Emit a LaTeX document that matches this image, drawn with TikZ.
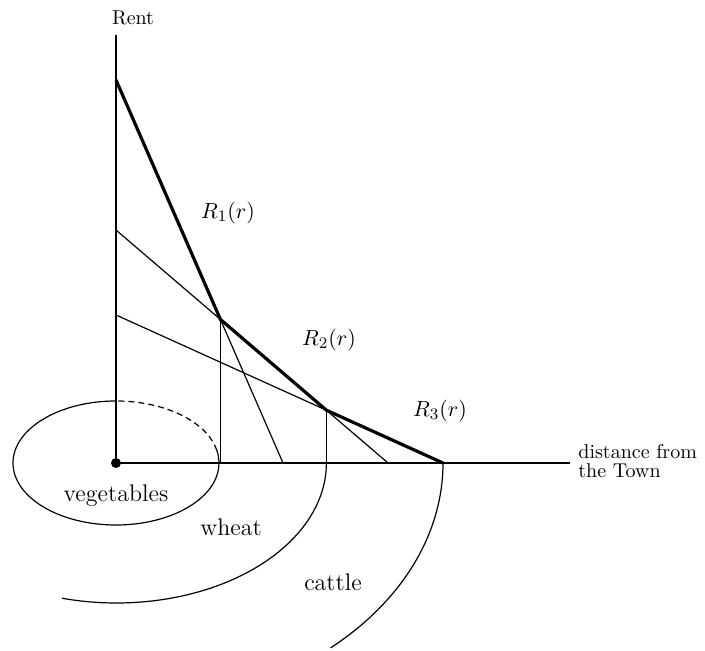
\documentclass[tikz,border=0pt]{standalone}
\begin{document}
\begin{tikzpicture}[x=0.5pt,y=0.5pt,
  thin line/.style={line width=0.6pt},
  envelope/.style={line width=1.6pt, line join=miter},
  zone/.style={font=\fontsize{12}{14}\selectfont, inner sep=0pt},
  axislabel/.style={font=\fontsize{10}{9.5}\selectfont, inner sep=0pt},
  rentlabel/.style={font=\fontsize{11}{13}\selectfont, inner sep=0pt}]
\useasboundingbox (0,0) rectangle (705,651);
% key points
\coordinate (O) at (116,188);
\coordinate (Ytop) at (116,616);
\coordinate (Xend) at (570,188);
\coordinate (A) at (116,571);
\coordinate (B2) at (116,421);
\coordinate (B3) at (116,336);
\coordinate (F1) at (283,188);
\coordinate (F2) at (388,188);
\coordinate (P3) at (443,188);
\coordinate (P1) at (intersection of A--F1 and B2--F2);
\coordinate (P2) at (intersection of B2--F2 and B3--P3);
\coordinate (Q2) at (P2 |- O);
% axes
\draw[thin line] (Ytop) -- (O) -- (Xend);
% rent lines
\draw[thin line] (A) -- (F1);
\draw[thin line] (B2) -- (F2);
\draw[thin line] (B3) -- (P3);
% drop lines
\draw[thin line] (P1) -- (P1 |- O);
\draw[thin line] (P2) -- (Q2);
% envelope
\draw[envelope] (A) -- (P1) -- (P2) -- (P3);
% vegetables ring
\draw[thin line, dash pattern=on 3pt off 2pt] (O) ++(12:103 and 62) arc[start angle=12, end angle=90, x radius=103, y radius=62];
\draw[thin line] (O) ++(90:103 and 62) arc[start angle=90, end angle=372, x radius=103, y radius=62];
% wheat ring
\draw[thin line] (Q2) arc[start angle=0, end angle=-105, x radius=210, y radius=140];
% cattle ring
\draw[thin line] (P3) arc[start angle=0, end angle=-49, x radius=327, y radius=245];
% town
\fill (O) circle[radius=5];
% labels
\node[axislabel] (rent) at (133,633) {Rent};
\node[axislabel, anchor=west, align=left] (dist) at (578,190) {distance from\\the Town};
\node[rentlabel] (r1) at (228,438) {$R_1(r)$};
\node[rentlabel] (r2) at (329,311) {$R_2(r)$};
\node[rentlabel] (r3) at (440,240) {$R_3(r)$};
\node[zone] (veg) at (116,155) {vegetables};
\node[zone] (wheat) at (231,124) {wheat};
\node[zone] (cattle) at (333,69) {cattle};
\end{tikzpicture}
\end{document}
